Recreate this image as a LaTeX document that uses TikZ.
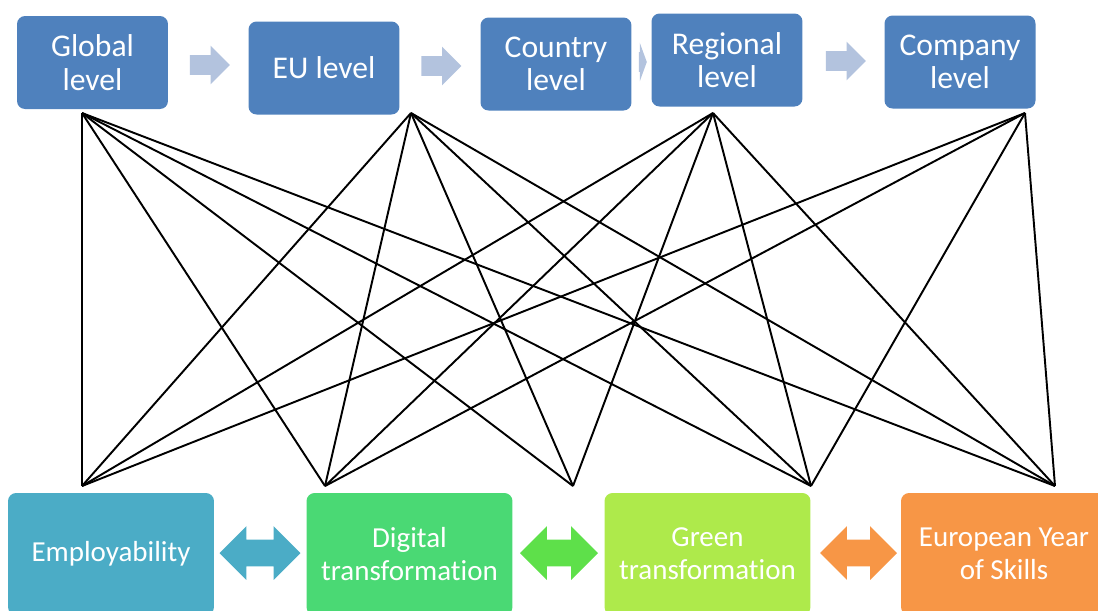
\documentclass[tikz,border=0pt]{standalone}
\usepackage{fontspec}
\setmainfont[Ligatures=NoCommon]{Carlito}
\usepackage{tikz}
\usetikzlibrary{shapes.arrows}
\definecolor{levelblue}{HTML}{4F81BD}
\definecolor{flowblue}{HTML}{B3C3DE}
\definecolor{empblue}{HTML}{4BACC6}
\definecolor{diggreen}{HTML}{4AD974}
\definecolor{grngreen}{HTML}{AEEA4B}
\definecolor{pairgreen}{HTML}{5EE04A}
\definecolor{skillorange}{HTML}{F79646}

\begin{document}
\begin{tikzpicture}[x=0.02cm,y=-0.02cm]
	\tikzstyle{level} = [rectangle,rounded corners=0.16cm,fill=levelblue,text=white,minimum width=3.02cm,minimum height=1.86cm,align=center,inner sep=0,font=\fontsize{18}{19}\selectfont]
	\tikzstyle{topic} = [rectangle,rounded corners=0.16cm,text=white,minimum width=4.12cm,minimum height=2.44cm,align=center,inner sep=0,font=\fontsize{16.5}{18.7}\selectfont]
	\tikzstyle{flow} = [single arrow,fill=flowblue,inner sep=0,text height=0.19cm,text depth=0.19cm,minimum height=0.8cm,minimum width=0.76cm,single arrow head extend=0.19cm]
	\tikzstyle{pair} = [double arrow,inner sep=0,text height=0.26cm,text depth=0.26cm,minimum width=1.06cm,double arrow head extend=0.27cm]
	\tikzstyle{link} = [black,line width=1.1pt]
	\useasboundingbox (0,0) rectangle (1098,610);
	\clip (0,0) rectangle (1098,610);
	
	\node [level] (global) at (92.5,62.5) {Global\\level};
	\node [level] (eu) at (324,68) {EU level};
	\node [level] (country) at (556,64) {Country\\level};
	\node [level] (regional) at (727,60) {Regional\\level};
	\node [level] (company) at (960,62) {Company\\level};
	
	\node [flow] (f1) at (205,65) {};
	\node [flow] (f2) at (436.5,66) {};
	\node [flow,minimum height=0.16cm,single arrow tip angle=140] (f3) at (641,62) {};
	\node [flow] (f4) at (841,61) {};
	
	\node [topic,fill=empblue] (emp) at (111,554) {Employability};
	\node [topic,fill=diggreen] (dig) at (409.5,554) {Digital\\transformation};
	\node [topic,fill=grngreen] (grn) at (707.5,554) {Green\\transformation};
	\node [topic,fill=skillorange] (eys) at (1004,554) {European Year\\of Skills};
	
	\node [pair,fill=empblue,minimum height=1.62cm] (d1) at (260,553) {};
	\node [pair,fill=pairgreen,minimum height=1.56cm] (d2) at (559,553) {};
	\node [pair,fill=skillorange,minimum height=1.54cm] (d3) at (858.5,553) {};
	
	% fan points
	\coordinate (gtop) at (82,113);
	\coordinate (etop) at (411,113);
	\coordinate (rtop) at (713,113);
	\coordinate (ctop) at (1025,113);
	\coordinate (p1) at (82,486);
	\coordinate (p2) at (325,486);
	\coordinate (p3) at (573,486);
	\coordinate (p4) at (811,486);
	\coordinate (p5) at (1055,486);
	
	\draw [link] (gtop) edge (p1) edge (p2) edge (p3) edge (p4) edge (p5);
	\draw [link] (etop) edge (p1) edge (p2) edge (p3) edge (p4) edge (p5);
	\draw [link] (rtop) edge (p1) edge (p2) edge (p3) edge (p4) edge (p5);
	\draw [link] (ctop) edge (p1) edge (p2) edge (p4) edge (p5);
\end{tikzpicture}
\end{document}
